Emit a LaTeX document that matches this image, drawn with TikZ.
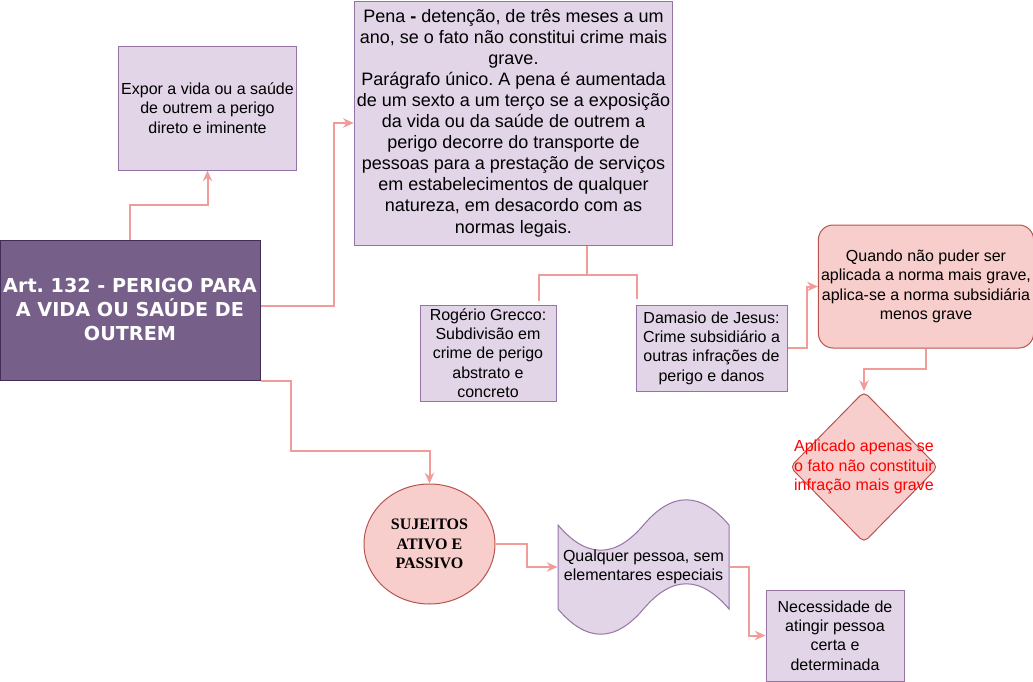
\documentclass[tikz,border=0pt]{standalone}
\usepackage{fontspec}
\setmainfont{Liberation Sans}
\newfontfamily\titlefont{DejaVu Sans}
\newfontfamily\serifbold{Liberation Serif}
\usetikzlibrary{shapes.geometric, arrows.meta, calc}
\frenchspacing
\definecolor{lilacfill}{HTML}{E1D5E7}
\definecolor{lilacline}{HTML}{9673A6}
\definecolor{rosefill}{HTML}{F8CECC}
\definecolor{roseline}{HTML}{B85450}
\definecolor{plumfill}{HTML}{76608A}
\definecolor{plumline}{HTML}{432D57}
\definecolor{linkpink}{HTML}{F19C99}
\tikzset{
  basenode/.style={draw, align=center, inner sep=2pt, line width=0.75pt, font=\fontsize{12}{14.5}\selectfont},
  lilacnode/.style={basenode, fill=lilacfill, draw=lilacline},
  rosenode/.style={basenode, fill=rosefill, draw=roseline},
  titlenode/.style={basenode, fill=plumfill, draw=plumline, text=white, font=\titlefont\bfseries\fontsize{14.4}{18}\selectfont},
  link/.style={-{Stealth[length=8pt,width=7pt]}, line width=1.5pt, linkpink},
  plainlink/.style={line width=1.5pt, linkpink},
}
\begin{document}
\begin{tikzpicture}[x=0.75pt, y=-0.75pt]
  \useasboundingbox (0,0) rectangle (1033,682);
  \node[titlenode, minimum width=195pt, minimum height=105pt] (art) at (130,310) {Art. 132 - PERIGO PARA\\A VIDA OU SAÚDE DE\\OUTREM};
  \node[lilacnode, minimum width=131.25pt, minimum height=93pt] (expor) at (207.5,108) {Expor a vida ou a saúde\\de outrem a perigo\\direto e iminente};
  \node[lilacnode, minimum width=237.75pt, minimum height=183pt, font=\fontsize{13.5}{15.8}\selectfont] (pena) at (513.5,123) {Pena \textbf{-} detenção, de três meses a um\\ano, se o fato não constitui crime mais\\grave.\\Parágrafo único. A pena é aumentada\\de um sexto a um terço se a exposição\\da vida ou da saúde de outrem a\\perigo decorre do transporte de\\pessoas para a prestação de serviços\\em estabelecimentos de qualquer\\natureza, em desacordo com as\\normas legais.};
  \node[lilacnode, minimum width=102pt, minimum height=72pt, inner sep=1pt] (grecco) at (488,353) {Rogério Grecco:\\Subdivisão em\\crime de perigo\\abstrato e\\concreto};
  \node[lilacnode, minimum width=113.25pt, minimum height=64.5pt] (damasio) at (711.5,348) {Damasio de Jesus:\\Crime subsidiário a\\outras infrações de\\perigo e danos};
  \node[rosenode, rounded corners=11pt, minimum width=159pt, minimum height=92.25pt] (quando) at (926,286.5) {Quando não puder ser\\aplicada a norma mais grave,\\aplica-se a norma subsidiária\\menos grave};
  \node[rosenode, diamond, rounded corners=4pt, minimum width=111pt, minimum height=113.25pt, inner sep=0pt,
    label={[text=red, align=center, font=\fontsize{12}{14.5}\selectfont]center:{Aplicado apenas se\\o fato não constituir\\infração mais grave}}] (dia) at (864,467) {};
  \node[rosenode, ellipse, minimum width=98.25pt, minimum height=90pt, font=\serifbold\bfseries\fontsize{12}{14.5}\selectfont] (sujeitos) at (429.5,544) {SUJEITOS\\ATIVO E\\PASSIVO};
  % tape shape
  \draw[lilacline, fill=lilacfill, line width=0.75pt] (558,525) .. controls (586.5,558.6) and (615,558.6) .. (643.5,525)
    .. controls (672,491.4) and (700.5,491.4) .. (729,525) -- (729,609)
    .. controls (700.5,575.4) and (672,575.4) .. (643.5,609)
    .. controls (615,642.6) and (586.5,642.6) .. (558,609) -- cycle;
  \node[basenode, draw=none, minimum width=128.25pt, minimum height=105pt] (tape) at (643.5,567) {Qualquer pessoa, sem\\elementares especiais};
  \node[lilacnode, minimum width=103.5pt, minimum height=68.25pt] (necess) at (835,635.5) {Necessidade de\\atingir pessoa\\certa e\\determinada};
  % connectors
  \draw[link] (art.north) -- ++(0,-35) -| (expor.south);
  \draw[link] ([yshift=3pt]art.east) -- ++(73,0) |- (pena.west);
  \draw[link] (art.south east) -- ++(30,0) -- ++(0,70) -| (sujeitos.north);
  \draw[plainlink] ($(pena.south)+(73.5,0)$) -- ++(0,29) coordinate (fork);
  \draw[plainlink] ($(grecco.north east)+(-18,-4)$) |- (fork) -| ($(damasio.north west)+(1.5,-6)$);
  \draw[link] (damasio.east) -- ++(19,0) |- (quando.west);
  \draw[link] (quando.south) -- ++(0,20) -| (dia.north);
  \draw[link] (sujeitos.east) -- ++(31,0) |- (tape.west);
  \draw[link] (tape.east) -- ++(19,0) |- (necess.west);
\end{tikzpicture}
\end{document}
